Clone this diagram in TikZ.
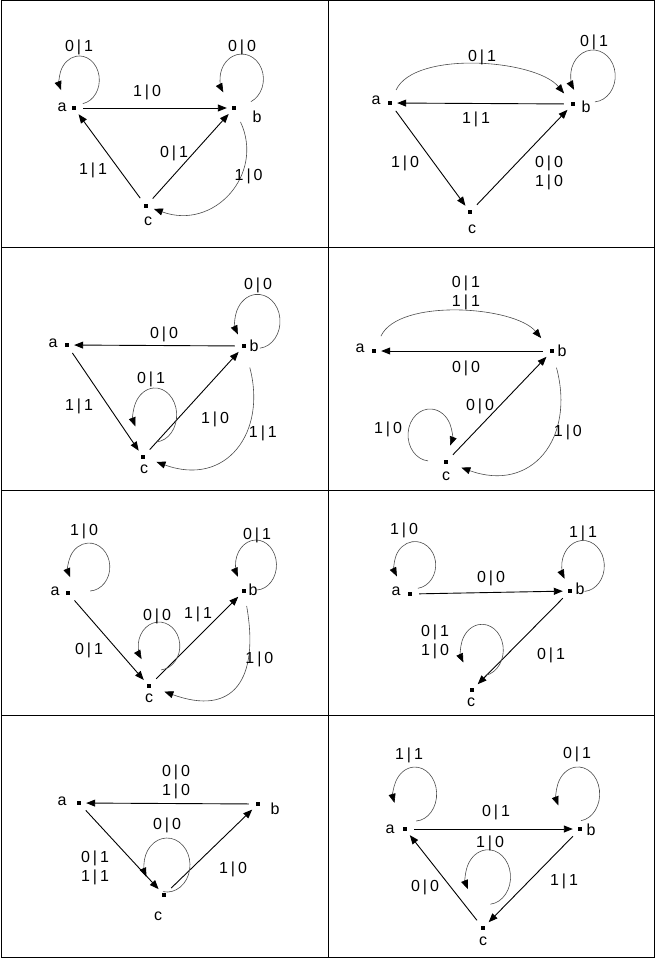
\documentclass[tikz,border=0pt]{standalone}
\usepackage{fontspec}
\setmainfont{Liberation Sans}
\usetikzlibrary{arrows.meta}
\newcommand{\iolab}[2]{#1\hspace{3pt}|\hspace{3pt}#2}

\begin{document}
\begin{tikzpicture}[
    x=1pt, y=1pt,
    font=\fontsize{16}{19}\selectfont,
    statedot/.style={%
      fill,
      rectangle,
      minimum size=4pt,
      inner sep=0pt,
    },
    lbl/.style={inner sep=0pt, align=center},
    trans/.style={line width=0.9pt, -{Triangle[length=9pt,width=7pt]}, shorten <=7pt, shorten >=5pt},
    bendtrans/.style={draw=black!70, line width=0.6pt, -{Triangle[length=9pt,width=7pt,color=black]}},
    selfloop/.style={draw=black!70, line width=0.6pt, -{Triangle[length=9pt,width=7pt,color=black]}},
  ]

    \useasboundingbox (0,0) rectangle (655,-958);
    \draw [line width=1pt] (1,-1) rectangle (654,-957);
    \draw [line width=1pt] (328,-1) -- (328,-957);
    \foreach \y in {247,490,715} {
      \draw [line width=1pt] (1,-\y) -- (654,-\y);
    }

    % cell 1
    \node [statedot,label={[lbl,xshift=-12pt,yshift=1pt]center:a}] (a1) at (74,-108) {};
    \node [statedot,label={[lbl,xshift=23pt,yshift=-9pt]center:b}] (b1) at (234,-108) {};
    \node [statedot,label={[lbl,xshift=2pt,yshift=-15pt]center:c}] (c1) at (146,-206) {};

    \draw [trans] (a1) -- node [lbl,xshift=-7pt,yshift=15.4pt] {\iolab10} (b1);
    \draw [trans] (c1) -- node [lbl,xshift=-17pt,yshift=-13.6pt] {\iolab11} (a1);
    \draw [trans] (c1) -- node [lbl,xshift=-16pt,yshift=3.4pt] {\iolab01} (b1);
    \draw [bendtrans,shorten <=13pt,shorten >=6pt] (b1) to [out=-65,in=-20,looseness=1.39] node [lbl,xshift=21pt,yshift=15pt] {\iolab10} (c1);
    \draw [selfloop] (a1) ++(8.8,4.4) arc [start angle=-80,end angle=205,x radius=20,y radius=24];
    \draw [selfloop] (b1) ++(16.9,6.3) arc [start angle=-65,end angle=212,x radius=21.7,y radius=25];
    \node [lbl] (la1) at ([shift={(5,60.4)}]a1) {\iolab01};
    \node [lbl] (lb1) at ([shift={(8,60.4)}]b1) {\iolab00};

    % cell 2
    \node [statedot,label={[lbl,xshift=-14pt,yshift=3pt]center:a}] (a2) at (390,-103) {};
    \node [statedot,label={[lbl,xshift=13pt,yshift=-3pt]center:b}] (b2) at (573,-104) {};
    \node [statedot,label={[lbl,xshift=2pt,yshift=-17pt]center:c}] (c2) at (470,-212) {};

    \draw [bendtrans,shorten <=12pt,shorten >=11pt] (a2) to [out=65,in=130,looseness=0.79] node [lbl,xshift=5.5pt,yshift=9.3pt] {\iolab01} (b2);
    \draw [trans] (b2) -- node [lbl,xshift=-5.5pt,yshift=-16.1pt] {\iolab11} (a2);
    \draw [trans] (a2) -- node [lbl,xshift=-25pt,yshift=-6.1pt] {\iolab10} (c2);
    \draw [trans] (c2) -- node [lbl,xshift=27.5pt,yshift=-14.6pt] {\iolab00\\\iolab10} (b2);
    \draw [selfloop] (b2) ++(21.9,2.1) arc [start angle=-85,end angle=212,x radius=22.3,y radius=26];
    \node [lbl] (lb2) at ([shift={(21,61.4)}]b2) {\iolab01};

    % cell 3
    \node [statedot,label={[lbl,xshift=-14pt,yshift=2pt]center:a}] (a3) at (67,-345) {};
    \node [statedot,label={[lbl,xshift=10pt,yshift=0pt]center:b}] (b3) at (244,-346) {};
    \node [statedot,label={[lbl,xshift=1pt,yshift=-12pt]center:c}] (c3) at (143,-457) {};

    \draw [trans] (b3) -- node [lbl,xshift=8.5pt,yshift=10.9pt] {\iolab00} (a3);
    \draw [trans] (a3) -- node [lbl,xshift=-26pt,yshift=-5.6pt] {\iolab11} (c3);
    \draw [trans] (c3) -- node [lbl,xshift=21.5pt,yshift=-18.1pt] {\iolab10} (b3);
    \draw [bendtrans,shorten <=20pt,shorten >=12pt] (b3) to [out=-75,in=-20,looseness=1.5] node [lbl,xshift=29pt,yshift=11.8pt] {\iolab11} (c3);
    \draw [selfloop] (b3) ++(15.9,-2.2) arc [start angle=-84,end angle=209,x radius=22.5,y radius=27];
    \draw [selfloop] (c3) ++(13.5,15.1) arc [start angle=-86,end angle=205,x radius=21.7,y radius=27];
    \node [lbl] (lb3) at ([shift={(14,60.4)}]b3) {\iolab00};
    \node [lbl] (lc3) at ([shift={(8,77.4)}]c3) {\iolab01};

    % cell 4
    \node [statedot,label={[lbl,xshift=-14pt,yshift=3pt]center:a}] (a4) at (374,-351) {};
    \node [statedot,label={[lbl,xshift=10pt,yshift=0pt]center:b}] (b4) at (552,-351) {};
    \node [statedot,label={[lbl,xshift=0pt,yshift=-14pt]center:c}] (c4) at (446,-462) {};

    \draw [bendtrans,shorten <=14pt,shorten >=14pt] (a4) to [out=65,in=130,looseness=0.82] node [lbl,xshift=8pt,yshift=20.5pt] {\iolab01\\\iolab11} (b4);
    \draw [trans] (b4) -- node [lbl,xshift=3pt,yshift=-17.6pt] {\iolab00} (a4);
    \draw [trans] (c4) -- node [lbl,xshift=-19pt,yshift=0pt] {\iolab00} (b4);
    \draw [bendtrans,shorten <=15pt,shorten >=14pt] (b4) to [out=-75,in=-20,looseness=1.5] node [lbl,xshift=27.7pt,yshift=18.6pt] {\iolab10} (c4);
    \draw [selfloop] (c4) ++(-17.9,1.1) arc [start angle=265,end angle=-24,x radius=22,y radius=26];
    \node [lbl] (lc4) at ([shift={(-58,32.4)}]c4) {\iolab10};

    % cell 5
    \node [statedot,label={[lbl,xshift=-13pt,yshift=2pt]center:a}] (a5) at (68,-593) {};
    \node [statedot,label={[lbl,xshift=9pt,yshift=1pt]center:b}] (b5) at (244,-591) {};
    \node [statedot,label={[lbl,xshift=0pt,yshift=-12pt]center:c}] (c5) at (149,-686) {};

    \draw [trans] (a5) -- node [lbl,xshift=-19.5pt,yshift=-11.1pt] {\iolab01} (c5);
    \draw [trans] (c5) -- node [lbl,xshift=1.5pt,yshift=23.9pt] {\iolab11} (b5);
    \draw [bendtrans,shorten <=13pt,shorten >=14pt] (b5) to [out=-80,in=-20,looseness=1.7] node [lbl,xshift=25pt,yshift=24pt] {\iolab10} (c5);
    \draw [selfloop] (a5) ++(22.1,2) arc [start angle=-87,end angle=205,x radius=20.8,y radius=24];
    \draw [selfloop] (b5) ++(12.7,1) arc [start angle=-88,end angle=208,x radius=20.5,y radius=25];
    \draw [selfloop] (c5) ++(12.2,16.1) arc [start angle=-84,end angle=213,x radius=20.8,y radius=24];
    \node [lbl] (la5) at ([shift={(16,61.4)}]a5) {\iolab10};
    \node [lbl] (lb5) at ([shift={(13,55.4)}]b5) {\iolab01};
    \node [lbl] (lc5) at ([shift={(8,69.4)}]c5) {\iolab00};

    % cell 6
    \node [statedot,label={[lbl,xshift=-14pt,yshift=3pt]center:a}] (a6) at (410,-594) {};
    \node [statedot,label={[lbl,xshift=10pt,yshift=2pt]center:b}] (b6) at (570,-591) {};
    \node [statedot,label={[lbl,xshift=-1pt,yshift=-12pt]center:c}] (c6) at (472,-690) {};

    \draw [trans] (a6) -- node [lbl,xshift=1pt,yshift=14.4pt] {\iolab00} (b6);
    \draw [trans] (b6) -- node [lbl,xshift=30pt,yshift=-15.1pt] {\iolab01} (c6);
    \draw [selfloop] (a6) ++(7.9,5.7) arc [start angle=-82,end angle=209,x radius=20.7,y radius=23.5];
    \draw [selfloop] (b6) ++(14.5,-0.4) arc [start angle=-86,end angle=210,x radius=21.3,y radius=25.5];
    \draw [selfloop] (c6) ++(13.7,14.7) arc [start angle=-80,end angle=209,x radius=21.3,y radius=25.7];
    \node [lbl] (la6) at ([shift={(-6,63.4)}]a6) {\iolab10};
    \node [lbl] (lb6) at ([shift={(13,57.4)}]b6) {\iolab11};
    \node [lbl] (lc6) at ([shift={(-37,48.4)}]c6) {\iolab01\\\iolab10};

    % cell 7
    \node [statedot,label={[lbl,xshift=-17pt,yshift=2pt]center:a}] (a7) at (79,-803) {};
    \node [statedot,label={[lbl,xshift=17pt,yshift=-5pt]center:b}] (b7) at (258,-804) {};
    \node [statedot,label={[lbl,xshift=-6pt,yshift=-21pt]center:c}] (c7) at (164,-895) {};

    \draw [trans] (b7) -- node [lbl,xshift=7.5pt,yshift=21.9pt] {\iolab00\\\iolab10} (a7);
    \draw [trans] (a7) -- node [lbl,xshift=-26.5pt,yshift=-18.6pt] {\iolab01\\\iolab11} (c7);
    \draw [trans] (c7) -- node [lbl,xshift=22pt,yshift=-20.1pt] {\iolab10} (b7);
    \draw [selfloop] (c7) ++(-1,3.4) arc [start angle=-100,end angle=206,x radius=23,y radius=27];
    \node [lbl] (lc7) at ([shift={(3,69.4)}]c7) {\iolab00};

    % cell 8
    \node [statedot,label={[lbl,xshift=-15pt,yshift=0pt]center:a}] (a8) at (405,-829) {};
    \node [statedot,label={[lbl,xshift=11pt,yshift=-1pt]center:b}] (b8) at (580,-829) {};
    \node [statedot,label={[lbl,xshift=0pt,yshift=-13pt]center:c}] (c8) at (483,-928) {};

    \draw [trans] (a8) -- node [lbl,xshift=3.5pt,yshift=16.4pt] {\iolab01} (b8);
    \draw [trans] (c8) -- node [lbl,xshift=-19pt,yshift=-9.1pt] {\iolab00} (a8);
    \draw [trans] (b8) -- node [lbl,xshift=32.5pt,yshift=-3.1pt] {\iolab11} (c8);
    \draw [selfloop] (a8) ++(11.1,8) arc [start angle=-87,end angle=199,x radius=21.7,y radius=27];
    \draw [selfloop] (b8) ++(1,8.3) arc [start angle=-82,end angle=205,x radius=21.7,y radius=27];
    \draw [selfloop] (c8) ++(7.4,23.8) arc [start angle=-84,end angle=206,x radius=22.5,y radius=27.3];
    \node [lbl] (la8) at ([shift={(4,73.4)}]a8) {\iolab11};
    \node [lbl] (lb8) at ([shift={(-3,74.4)}]b8) {\iolab01};
    \node [lbl] (lc8) at ([shift={(7,84.4)}]c8) {\iolab10};

\end{tikzpicture}
\end{document}
